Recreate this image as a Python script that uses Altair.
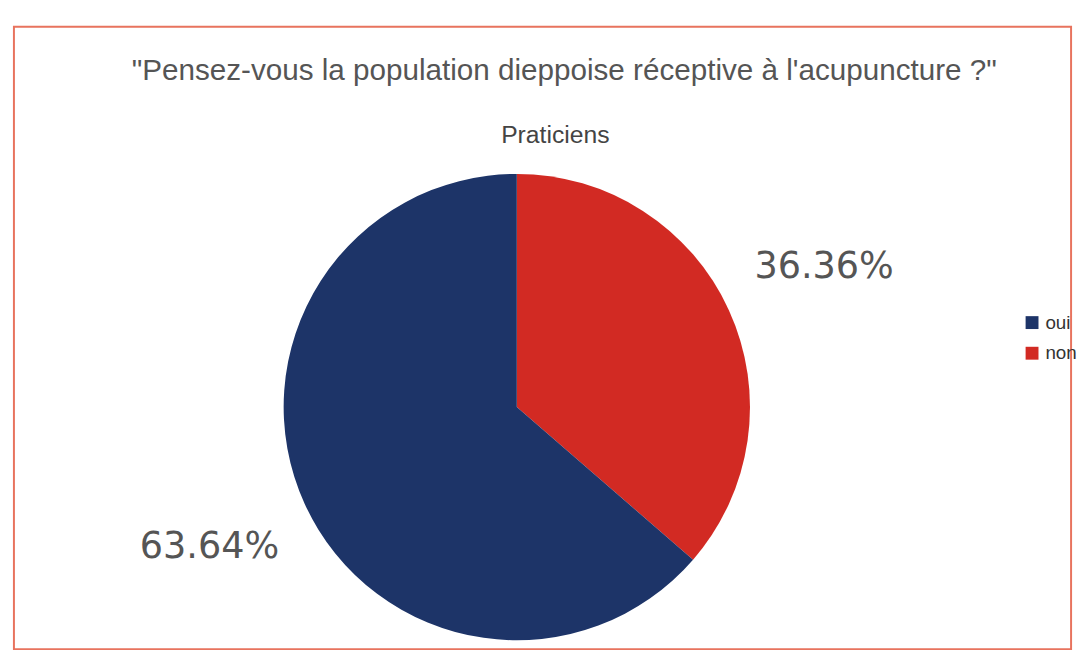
import altair as alt
import pandas as pd

categories = ["non", "oui"]
values = [36.36, 63.64]
labels = ["36.36%", "63.64%"]
order = [1, 2]
colors = ["#1d3468", "#d22a23"]

title_text = "\"Pensez-vous la population dieppoise réceptive à l'acupuncture ?\""
subtitle_text = "Praticiens"

df = pd.DataFrame({"cat": categories, "value": values, "label": labels, "ord": order})
tdf = pd.DataFrame({"t": [title_text], "s": [subtitle_text]})

cx, cy = 509, 385

base = alt.Chart(df)

pie = base.mark_arc(radius=236, stroke=None).encode(
    theta=alt.Theta("value:Q", stack=True),
    order=alt.Order("ord:Q"),
    color=alt.Color(
        "cat:N",
        scale=alt.Scale(domain=["oui", "non"], range=colors),
        legend=alt.Legend(
            title=None, orient="none", legendX=1021, legendY=290,
            symbolType="square", symbolSize=170, labelFontSize=19,
            labelColor="#333", labelFont="Liberation Sans", rowPadding=11,
            symbolStrokeWidth=0,
        ),
    ),
    x=alt.value(cx),
    y=alt.value(cy),
)

lab = base.mark_text(radius=342, fontSize=37, font="DejaVu Sans", color="#555555").encode(
    theta=alt.Theta("value:Q", stack=True),
    order=alt.Order("ord:Q"),
    detail="cat:N",
    text="label:N",
    x=alt.value(cx),
    y=alt.value(cy),
)

title = alt.Chart(tdf).mark_text(fontSize=30, font="Liberation Sans", color="#555555").encode(
    text="t:N", x=alt.value(557), y=alt.value(45)
)
sub = alt.Chart(tdf).mark_text(fontSize=25, font="Liberation Sans", color="#444444").encode(
    text="s:N", x=alt.value(548), y=alt.value(110)
)

chart = alt.layer(pie, lab, title, sub).properties(
    width=1070, height=630,
    padding={"left": 6, "top": 15, "right": 0, "bottom": 0},
    background="white",
).configure_view(stroke="#e8735e", strokeWidth=2)

chart.save("out.html", embed_options={"renderer": "svg", "actions": False})
